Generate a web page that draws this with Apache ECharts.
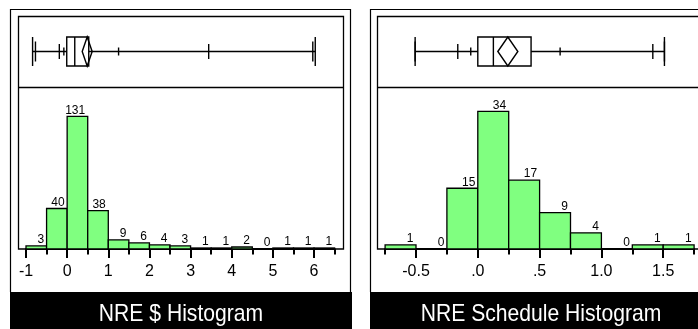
<!DOCTYPE html>
<html>
<head>
<meta charset="utf-8">
<script src="https://cdn.jsdelivr.net/npm/echarts@6/dist/echarts.min.js"></script>
<style>
  html, body { margin: 0; padding: 0; background: #fff; }
  #chart { width: 698px; height: 329px; }
</style>
</head>
<body>
<div id="chart"></div>
<script>
// ---- NRE $ distribution ----
const dollarBinStarts = [-1, -0.5, 0, 0.5, 1, 1.5, 2, 2.5, 3, 3.5, 4, 4.5, 5, 5.5, 6];
const dollarBinWidth = 0.5;
const dollarCounts = [3, 40, 131, 38, 9, 6, 4, 3, 1, 1, 2, 0, 1, 1, 1];
const dollarTicks = [-1, 0, 1, 2, 3, 4, 5, 6];
const dollarTickLabels = ['-1', '0', '1', '2', '3', '4', '5', '6'];
const dollarMinorTicks = [-0.5, 0.5, 1.5, 2.5, 3.5, 4.5, 5.5, 6.5];
const dollarRange = [-1, 6.5];
const dollarCountMax = 160;

// ---- NRE Schedule distribution ----
const scheduleBinStarts = [-0.75, -0.5, -0.25, 0, 0.25, 0.5, 0.75, 1, 1.25, 1.5];
const scheduleBinWidth = 0.25;
const scheduleCounts = [1, 0, 15, 34, 17, 9, 4, 0, 1, 1];
const scheduleTicks = [-0.5, 0, 0.5, 1, 1.5];
const scheduleTickLabels = ['-0.5', '.0', '.5', '1.0', '1.5'];
const scheduleMinorTicks = [-0.75, -0.25, 0.25, 0.75, 1.25, 1.75];
const scheduleRange = [-0.75, 1.75];
const scheduleCountMax = 40;

// ---- quantile box plots ----
const quantileLevels = ['min', '0.5%', '2.5%', '10%', '25%', '50%', '75%', '90%', '97.5%', '99.5%', 'max'];
const dollarQuantiles = [-0.84, -0.77, -0.19, -0.08, -0.01, 0.185, 0.525, 1.25, 3.44, 5.97, 6.03];
const dollarMean = 0.487;
const dollarMeanCI = [0.366, 0.608];
const scheduleQuantiles = [-0.507, -0.507, -0.162, -0.057, 0.0, 0.126, 0.431, 0.666, 1.416, 1.51, 1.51];
const scheduleMean = 0.243;
const scheduleMeanCI = [0.162, 0.324];

const titles = ['NRE $ Histogram', 'NRE Schedule Histogram'];

const FONT = '"Liberation Sans", Arial, sans-serif';
const BAR_FILL = '#80ff80';
const INK = '#000';

// Half-heights of the quantile marks on the box plot
const markHalf = { 'min': 14.5, '0.5%': 10, '2.5%': 7.5, '10%': 4, '90%': 4, '97.5%': 7.5, '99.5%': 10, 'max': 14.5 };
const BOX_HALF = 14.5;

function histData(starts, width, counts) {
  return starts.map((s, i) => [s, s + width, counts[i]]);
}

function renderHist(params, api) {
  const x0 = api.value(0), x1 = api.value(1), n = api.value(2);
  const a = api.coord([x0, 0]);
  const b = api.coord([x1, n]);
  const children = [];
  if (n > 0) {
    children.push({
      type: 'rect',
      shape: { x: a[0], y: b[1], width: b[0] - a[0], height: a[1] - b[1] },
      style: { fill: BAR_FILL, stroke: INK, lineWidth: 1.3 }
    });
  }
  children.push({
    type: 'text',
    style: {
      text: String(n), x: b[0] - 2.5, y: b[1],
      align: 'right', verticalAlign: 'bottom',
      font: '12px ' + FONT, fill: INK
    }
  });
  return { type: 'group', children };
}

function makeBoxRenderer(quantiles, mean, ci) {
  return function (params, api) {
    const yc = api.coord([0, 0.5])[1];
    const px = v => api.coord([v, 0.5])[0];
    const q = {};
    quantileLevels.forEach((k, i) => { q[k] = px(quantiles[i]); });
    const st = { stroke: INK, lineWidth: 1.4, fill: null };
    const ch = [];
    ch.push({ type: 'line', shape: { x1: q['min'], y1: yc, x2: q['max'], y2: yc }, style: st });
    Object.keys(markHalf).forEach(k => {
      const h = markHalf[k];
      ch.push({ type: 'line', shape: { x1: q[k], y1: yc - h, x2: q[k], y2: yc + h }, style: st });
    });
    ch.push({
      type: 'rect',
      shape: { x: q['25%'], y: yc - BOX_HALF, width: q['75%'] - q['25%'], height: 2 * BOX_HALF },
      style: { stroke: INK, lineWidth: 1.4, fill: '#fff' }
    });
    ch.push({ type: 'line', shape: { x1: q['50%'], y1: yc - BOX_HALF, x2: q['50%'], y2: yc + BOX_HALF }, style: st });
    const m = px(mean), lo = px(ci[0]), hi = px(ci[1]);
    ch.push({
      type: 'polygon',
      shape: { points: [[lo, yc], [m, yc - BOX_HALF], [hi, yc], [m, yc + BOX_HALF]] },
      style: { stroke: INK, lineWidth: 1.4, fill: 'none' }
    });
    return { type: 'group', children: ch };
  };
}

function majorAxis(grid, range, ticks, labels) {
  return {
    type: 'value', gridIndex: grid, position: 'bottom', min: range[0], max: range[1],
    axisLine: { show: true, lineStyle: { color: INK, width: 2 } },
    axisTick: { show: true, customValues: ticks, length: 9, lineStyle: { color: INK, width: 2 } },
    axisLabel: {
      show: true, customValues: ticks, margin: 15,
      formatter: v => { const i = ticks.findIndex(t => Math.abs(t - v) < 1e-9); return i >= 0 ? labels[i] : ''; },
      fontFamily: FONT, fontSize: 16, color: INK
    },
    splitLine: { show: false }
  };
}
function minorAxis(grid, range, ticks) {
  return {
    type: 'value', gridIndex: grid, position: 'bottom', min: range[0], max: range[1],
    axisLine: { show: false },
    axisTick: { show: true, customValues: ticks, length: 5.5, lineStyle: { color: INK, width: 2 } },
    axisLabel: { show: false },
    splitLine: { show: false }
  };
}
function hiddenX(grid, range) {
  return { type: 'value', gridIndex: grid, min: range[0], max: range[1], show: false, splitLine: { show: false } };
}
function hiddenY(grid, max) {
  return { type: 'value', gridIndex: grid, min: 0, max: max, show: false, splitLine: { show: false } };
}

// Scale placement for each panel (px)
const L = { left: 26, width: 308.6 };
const R = { left: 385.1, width: 309 };
const BOX_TOP = 16, BOX_H = 71, HIST_TOP = 87, HIST_H = 162;

const chart = echarts.init(document.getElementById('chart'), null, { renderer: 'canvas' });

function titleText(text, cx) {
  return {
    type: 'text', z: 2, x: cx, y: 314, scaleX: 0.88,
    style: { text: text, x: 0, y: 0, align: 'center', verticalAlign: 'middle', font: '24px ' + FONT, fill: '#fff' }
  };
}

chart.setOption({
  animation: false,
  backgroundColor: '#fff',
  grid: [
    { left: L.left, width: L.width, top: HIST_TOP, height: HIST_H },
    { left: L.left, width: L.width, top: BOX_TOP, height: BOX_H },
    { left: R.left, width: R.width, top: HIST_TOP, height: HIST_H },
    { left: R.left, width: R.width, top: BOX_TOP, height: BOX_H }
  ],
  xAxis: [
    majorAxis(0, dollarRange, dollarTicks, dollarTickLabels),
    minorAxis(0, dollarRange, dollarMinorTicks),
    hiddenX(1, dollarRange),
    majorAxis(2, scheduleRange, scheduleTicks, scheduleTickLabels),
    minorAxis(2, scheduleRange, scheduleMinorTicks),
    hiddenX(3, scheduleRange)
  ],
  yAxis: [
    hiddenY(0, dollarCountMax),
    hiddenY(1, 1),
    hiddenY(2, scheduleCountMax),
    hiddenY(3, 1)
  ],
  series: [
    {
      type: 'custom', xAxisIndex: 0, yAxisIndex: 0, clip: false,
      encode: { x: [0, 1], y: 2 },
      data: histData(dollarBinStarts, dollarBinWidth, dollarCounts),
      renderItem: renderHist, z: 3
    },
    {
      type: 'custom', xAxisIndex: 2, yAxisIndex: 1, clip: false,
      data: [[0]],
      renderItem: makeBoxRenderer(dollarQuantiles, dollarMean, dollarMeanCI), z: 3
    },
    {
      type: 'custom', xAxisIndex: 3, yAxisIndex: 2, clip: false,
      encode: { x: [0, 1], y: 2 },
      data: histData(scheduleBinStarts, scheduleBinWidth, scheduleCounts),
      renderItem: renderHist, z: 3
    },
    {
      type: 'custom', xAxisIndex: 5, yAxisIndex: 3, clip: false,
      data: [[0]],
      renderItem: makeBoxRenderer(scheduleQuantiles, scheduleMean, scheduleMeanCI), z: 3
    }
  ],
  graphic: [
    // outer panel borders
    { type: 'polyline', z: 1, shape: { points: [[10.5, 292], [10.5, 9.5], [350.5, 9.5], [350.5, 292]] }, style: { stroke: INK, lineWidth: 1.2, fill: null } },
    { type: 'polyline', z: 1, shape: { points: [[370.5, 292], [370.5, 9.5], [720, 9.5]] }, style: { stroke: INK, lineWidth: 1.2, fill: null } },
    // inner frames with box-plot divider
    { type: 'rect', z: 1, shape: { x: 18.5, y: 16.5, width: 325, height: 232.5 }, style: { stroke: INK, lineWidth: 1.3, fill: null } },
    { type: 'line', z: 1, shape: { x1: 18.5, y1: 87.5, x2: 343.5, y2: 87.5 }, style: { stroke: INK, lineWidth: 1.3 } },
    { type: 'rect', z: 1, shape: { x: 377.5, y: 16.5, width: 340, height: 232.5 }, style: { stroke: INK, lineWidth: 1.3, fill: null } },
    { type: 'line', z: 1, shape: { x1: 377.5, y1: 87.5, x2: 720, y2: 87.5 }, style: { stroke: INK, lineWidth: 1.3 } },
    // title bars
    { type: 'rect', z: 1, shape: { x: 10, y: 292, width: 342, height: 40 }, style: { fill: INK } },
    { type: 'rect', z: 1, shape: { x: 370, y: 292, width: 342, height: 40 }, style: { fill: INK } },
    titleText(titles[0], 181),
    titleText(titles[1], 541)
  ]
});
</script>
</body>
</html>
